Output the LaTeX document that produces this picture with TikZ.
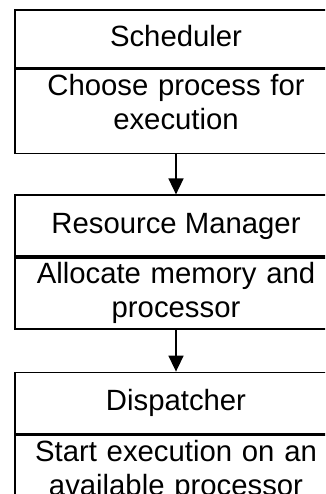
\documentclass[tikz,border=0pt]{standalone}
\usepackage{fontspec}
\setmainfont{Liberation Sans}
\usetikzlibrary{positioning,arrows.meta}
\tikzset{
	headbox/.style={draw, line width=1.6pt, minimum width=322pt, minimum height=58pt, inner sep=0pt, text height=22pt, text depth=6pt, font=\fontsize{29.3pt}{34pt}\selectfont},
	bodybox/.style={draw, line width=1.6pt, text width=322pt, align=center, inner sep=0pt, text height=26pt, font=\fontsize{29.3pt}{34pt}\selectfont},
	flow/.style={line width=1.6pt, -{Triangle[length=16pt, width=15pt]}}
}

\begin{document}
\begin{tikzpicture}[x=1pt, y=-1pt]
		%%%%% START %%%%%
		\useasboundingbox (0, 0) rectangle (325, 494);
		\clip (0, 0) rectangle (325, 494);
		
		\node[headbox] (sched) at (176, 39) {Scheduler};
		\node[bodybox, text depth=58pt, below=0pt of sched] (schedbody) {Choose process for\\execution};
		
		\node[headbox, minimum height=61pt, below=40pt of schedbody] (resman) {Resource Manager};
		\node[bodybox, text depth=45pt, below=0pt of resman] (resmanbody) {Allocate memory and\\processor};
		
		\node[headbox, minimum height=61pt, below=42pt of resmanbody] (dispatch) {Dispatcher};
		\node[bodybox, text depth=58pt, below=0pt of dispatch] (dispatchbody) {Start execution on an\\available processor};
		
		\draw[flow] (schedbody.south) -- (resman.north);
		\draw[flow] (resmanbody.south) -- (dispatch.north);
		%%%%% END %%%%%
\end{tikzpicture}
\end{document}
